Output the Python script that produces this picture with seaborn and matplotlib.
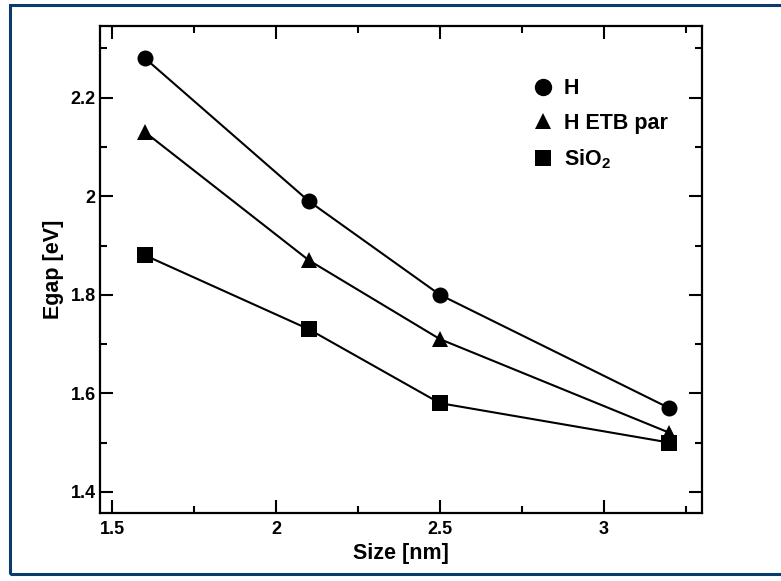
import matplotlib
matplotlib.use("Agg")
import matplotlib.pyplot as plt
from matplotlib.lines import Line2D
from matplotlib.patches import Rectangle
from matplotlib.ticker import MultipleLocator
import seaborn as sns

# Band-gap vs. nanocrystal size for three surface treatments
sizes = [1.6, 2.1, 2.5, 3.2]
gap_h = [2.28, 1.99, 1.80, 1.57]
gap_h_etb = [2.13, 1.87, 1.71, 1.52]
gap_sio2 = [1.88, 1.73, 1.58, 1.50]
series_labels = ["H", "H ETB par", "SiO$_{2}$"]

sns.set_theme(style="white")
plt.rcParams["font.family"] = ["Liberation Sans", "DejaVu Sans"]
plt.rcParams["font.weight"] = "bold"
plt.rcParams["mathtext.fontset"] = "custom"
plt.rcParams["mathtext.rm"] = "Liberation Sans:bold"
plt.rcParams["mathtext.default"] = "rm"
for key in ["text.color", "axes.labelcolor", "xtick.color", "ytick.color"]:
    plt.rcParams[key] = "black"

fig = plt.figure(figsize=(7.81, 5.81), dpi=100)
ax = fig.add_axes([100 / 781, 1 - 513 / 581, 602 / 781, 487 / 581])

# Dark frame around the whole figure (open on the right edge)
fig.patches.append(Rectangle((9.5 / 781, 1 - 574 / 581), 1.0, 569 / 581,
                             transform=fig.transFigure, fill=False,
                             edgecolor="#0b3a6c", linewidth=2.2, zorder=10))

styles = [("o", 11.5), ("^", 12.0), ("s", 11.0)]
for yvals, (mk, ms) in zip([gap_h, gap_h_etb, gap_sio2], styles):
    sns.lineplot(x=sizes, y=yvals, ax=ax, color="black", linewidth=1.5,
                 marker=mk, markersize=ms, markeredgewidth=0,
                 markerfacecolor="black", legend=False)

ax.set_xlim(1.4625, 3.30)
ax.set_ylim(1.357, 2.3456)
ax.xaxis.set_major_locator(MultipleLocator(0.5))
ax.xaxis.set_minor_locator(MultipleLocator(0.25))
ax.yaxis.set_major_locator(MultipleLocator(0.2))
ax.yaxis.set_minor_locator(MultipleLocator(0.1))
ax.set_xticks([1.5, 2.0, 2.5, 3.0])
ax.set_xticklabels(["1.5", "2", "2.5", "3"])
ax.set_yticks([1.4, 1.6, 1.8, 2.0, 2.2])
ax.set_yticklabels(["1.4", "1.6", "1.8", "2", "2.2"])

ax.tick_params(which="both", direction="in", top=True, right=True,
               bottom=True, left=True, width=1.5, color="black")
ax.tick_params(which="major", length=9.5)
ax.tick_params(which="minor", length=5)
ax.tick_params(axis="x", which="major", pad=6, labelsize=13)
ax.tick_params(axis="y", which="major", pad=3, labelsize=13)
for lab in ax.get_xticklabels() + ax.get_yticklabels():
    lab.set_fontweight("bold")

for sp in ax.spines.values():
    sp.set_color("black")
    sp.set_linewidth(1.6)

ax.set_xlabel("Size [nm]", fontsize=15.5, fontweight="bold", labelpad=3)
ax.set_ylabel("Egap [eV]", fontsize=15.5, fontweight="bold", labelpad=5)

handles = [Line2D([], [], linestyle="none", marker=mk, markersize=ms,
                  markerfacecolor="black", markeredgewidth=0, color="black")
           for mk, ms in [("o", 12.5), ("^", 12.0), ("s", 11.0)]]
leg = ax.legend(handles, series_labels, loc="upper left",
                bbox_to_anchor=(0.685, 0.932), frameon=False,
                handlelength=1.0, handletextpad=0.5, labelspacing=0.62,
                prop={"size": 15.5, "weight": "bold"})

fig.savefig("out.png", dpi=100)
